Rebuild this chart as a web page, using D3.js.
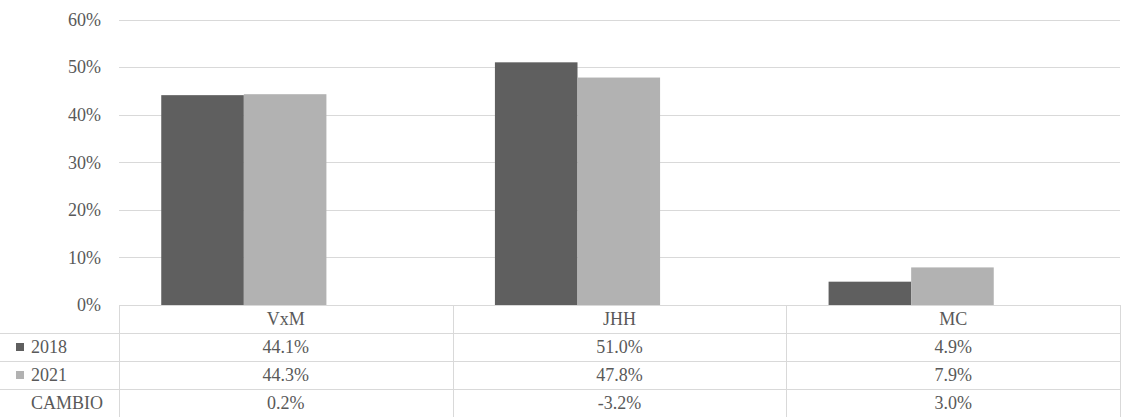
<!DOCTYPE html>
<html><head><meta charset="utf-8">
<script src="https://cdn.jsdelivr.net/npm/d3@7"></script>
<style>body{margin:0;background:#fff}svg{display:block}</style>
</head><body><svg id="c" width="1121" height="417"></svg>
<script>
const categories = ["VxM", "JHH", "MC"];
const seriesNames = ["2018", "2021", "CAMBIO"];
const values2018 = [44.1, 51.0, 4.9];
const values2021 = [44.3, 47.8, 7.9];
const change = [0.2, -3.2, 3.0];
const yTicks = [0, 10, 20, 30, 40, 50, 60];
const colors = ["#5f5f5f", "#b2b2b2"];

(function () {
const FONT = '"Liberation Serif", "LiberationSerif", "Times New Roman", Times, Tinos, "Noto Serif", "DejaVu Serif", "FreeSerif", "Nimbus Roman", "Nimbus Roman No9 L", serif';
const svg = d3.select("#c");
const mLeft = 119, mRight = 1120, mTop = 19.5, mBottom = 305;
const rowH = 28;
const fs = 18;
const barShift = 42;

const x = d3.scaleBand().domain(categories).range([mLeft, mRight]);
const xb = d3.scaleBand().domain(categories).range([mLeft - barShift, mRight - barShift]);
const y = d3.scaleLinear().domain([0, 60]).range([mBottom, mTop]);
const gw = xb.bandwidth() * 0.495;
const xi = d3.scaleBand().domain(["2018", "2021"]).range([(xb.bandwidth() - gw) / 2, (xb.bandwidth() + gw) / 2]);

svg.append("g").selectAll("line").data(yTicks.slice(1)).join("line")
  .attr("x1", mLeft).attr("x2", mRight)
  .attr("y1", d => Math.round(y(d)) + 0.5).attr("y2", d => Math.round(y(d)) + 0.5)
  .attr("stroke", "#d9d9d9").attr("stroke-width", 1);

const yAxis = d3.axisLeft(y).tickValues(yTicks).tickFormat(d => d + "%").tickSize(0).tickPadding(18);
const ga = svg.append("g").attr("transform", `translate(${mLeft},0)`).call(yAxis);
ga.attr("font-family", null).attr("font-size", null);
ga.select(".domain").remove();
ga.selectAll("text").style("font-family", FONT).style("font-size", fs + "px").attr("fill", "#595959").attr("dy", "0.32em");

const data = categories.map((c, i) => ({c, vals: [{k: "2018", v: values2018[i]}, {k: "2021", v: values2021[i]}]}));
svg.append("g").selectAll("g").data(data).join("g")
  .attr("transform", d => `translate(${xb(d.c)},0)`)
  .selectAll("rect").data(d => d.vals).join("rect")
  .attr("x", d => xi(d.k)).attr("width", xi.bandwidth())
  .attr("y", d => y(d.v)).attr("height", d => y(0) - y(d.v))
  .attr("fill", (d, i) => colors[i]);

const tbl = svg.append("g");
const lineC = "#d9d9d9";
tbl.append("line").attr("x1", mLeft).attr("x2", mRight).attr("y1", mBottom + 0.5).attr("y2", mBottom + 0.5).attr("stroke", lineC);
[1, 2, 3].forEach(r => {
  tbl.append("line").attr("x1", 0).attr("x2", mRight).attr("y1", mBottom + r * rowH + 0.5).attr("y2", mBottom + r * rowH + 0.5).attr("stroke", lineC);
});
const vx = [mLeft, ...categories.slice(1).map(c => x(c)), mRight];
vx.forEach(v => {
  tbl.append("line").attr("x1", Math.round(v) + 0.5).attr("x2", Math.round(v) + 0.5).attr("y1", mBottom).attr("y2", 417).attr("stroke", lineC);
});
tbl.selectAll("text.h").data(categories).join("text").attr("class", "h")
  .attr("x", d => x(d) + x.bandwidth() / 2).attr("y", mBottom + rowH / 2).attr("dy", "0.35em")
  .attr("text-anchor", "middle").text(d => d);
const rows = [values2018, values2021, change];
rows.forEach((arr, r) => {
  const cy = mBottom + (r + 1) * rowH + rowH / 2;
  tbl.selectAll(null).data(arr).join("text")
    .attr("x", (d, i) => x(categories[i]) + x.bandwidth() / 2).attr("y", cy).attr("dy", "0.35em")
    .attr("text-anchor", "middle").text(d => d.toFixed(1) + "%");
  if (r < 2) {
    tbl.append("rect").attr("x", 16).attr("y", cy - 4).attr("width", 8).attr("height", 8).attr("fill", colors[r]);
  }
  tbl.append("text").attr("x", 31).attr("y", cy).attr("dy", "0.35em").text(seriesNames[r]);
});
tbl.selectAll("text").style("font-family", FONT).style("font-size", fs + "px").attr("fill", "#595959");
})();
</script></body></html>
